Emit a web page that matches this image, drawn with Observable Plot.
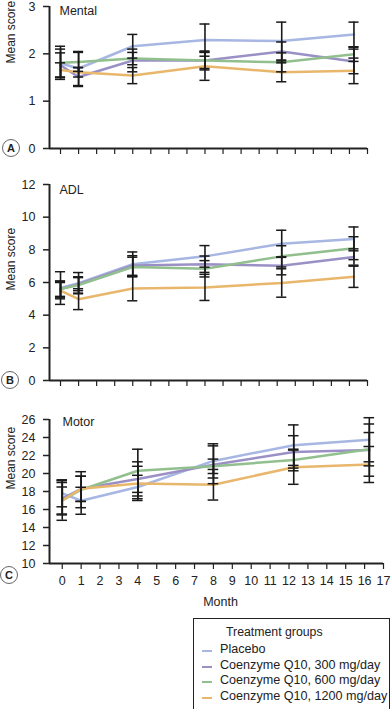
<!DOCTYPE html>
<html><head><meta charset="utf-8">
<script src="https://cdn.jsdelivr.net/npm/d3@7"></script>
<script src="https://cdn.jsdelivr.net/npm/@observablehq/plot@0.6"></script>
<style>
body{margin:0;background:#fff;font-family:"Liberation Sans",Arial,sans-serif;color:#222;}
#wrap{position:relative;width:392px;height:709px;overflow:hidden;background:#fff;}
.panel{position:absolute;left:0;}
.circ{position:absolute;width:16px;height:16px;border:1px solid #666;border-radius:50%;font-size:11px;font-weight:bold;text-align:center;line-height:16px;color:#222;background:#fff;}
.legend{position:absolute;left:193px;top:618px;width:197px;height:96px;border:1.2px solid #222;box-sizing:border-box;font-size:12.6px;color:#222;}
.legend .t{position:absolute;left:32px;top:6px;font-size:12.3px;}
.legend .r{position:absolute;left:26px;white-space:nowrap;}
.legend .sw{position:absolute;left:8px;width:10px;height:2px;}
</style></head>
<body><div id="wrap"></div>
<script>
const FONT = '"Liberation Sans", Arial, sans-serif';
const months = [0, 1, 4, 8, 12.25, 16.25];
const monthTicks = d3.range(0, 18);
const groups = ["Placebo", "Coenzyme Q10, 300 mg/day", "Coenzyme Q10, 600 mg/day", "Coenzyme Q10, 1200 mg/day"];
const colors = ["#a7b6e2", "#9b90c6", "#92bf8e", "#e8b76c"];

// Panel A — Mental (mean, ± error)
const mentalPlacebo = [1.80, 1.69, 2.16, 2.29, 2.27, 2.41];
const mental300     = [1.76, 1.51, 1.86, 1.86, 2.05, 1.84];
const mental600     = [1.81, 1.83, 1.90, 1.86, 1.82, 1.99];
const mental1200    = [1.66, 1.61, 1.54, 1.74, 1.61, 1.64];
const mentalErrPlacebo = [0.30, 0.36, 0.25, 0.34, 0.40, 0.26];
const mentalErr300     = [0.26, 0.20, 0.24, 0.17, 0.20, 0.26];
const mentalErr600     = [0.35, 0.20, 0.13, 0.20, 0.20, 0.15];
const mentalErr1200    = [0.15, 0.10, 0.17, 0.30, 0.20, 0.27];

// Panel B — ADL
const adlPlacebo = [5.66, 5.96, 7.12, 7.60, 8.37, 8.67];
const adl300     = [5.60, 5.90, 7.04, 7.12, 7.02, 7.56];
const adl600     = [5.60, 5.85, 6.95, 6.84, 7.60, 8.10];
const adl1200    = [5.50, 4.98, 5.63, 5.70, 5.97, 6.35];
const adlErrPlacebo = [1.00, 0.65, 0.75, 0.66, 0.83, 0.73];
const adlErr300     = [0.45, 0.40, 0.60, 0.50, 0.55, 0.50];
const adlErr600     = [0.50, 0.50, 0.60, 0.50, 0.65, 0.70];
const adlErr1200    = [0.50, 0.64, 0.75, 0.80, 0.87, 0.65];

// Panel C — Motor
const motorPlacebo = [17.8, 16.97, 18.5, 21.4, 23.15, 23.75];
const motor300     = [17.2, 18.3, 19.4, 20.97, 22.4, 22.6];
const motor600     = [17.0, 18.2, 20.3, 20.8, 21.5, 22.7];
const motor1200    = [17.0, 18.3, 18.9, 18.75, 20.7, 21.0];
const motorErrPlacebo = [1.5, 1.5, 1.3, 1.9, 2.25, 2.45];
const motorErr300     = [1.8, 1.4, 1.9, 2.1, 1.8, 2.9];
const motorErr600     = [2.2, 2.0, 2.4, 0.8, 1.2, 1.85];
const motorErr1200    = [1.5, 1.4, 1.9, 1.7, 1.9, 2.0];

function rowsFor(means, errs) {
  return groups.flatMap((g, gi) => months.map((m, i) => ({group: g, month: m, value: means[gi][i], err: errs[gi][i]})));
}

function panel(o) {
  const cap = 0.28;
  return Plot.plot({
    width: 392, height: o.height,
    marginLeft: 49, marginRight: o.marginRight, marginTop: o.marginTop, marginBottom: o.marginBottom,
    style: {background: "transparent", overflow: "visible", fontFamily: FONT, fontSize: "12px", color: "#222"},
    x: {domain: o.xDomain},
    y: {domain: o.yDomain},
    color: {domain: groups, range: colors},
    marks: [
      Plot.axisY(o.yTicks, {tickSize: 6, tickPadding: 8, label: null, fontSize: 12.5, strokeWidth: 1.5}),
      Plot.axisX(monthTicks, {tickSize: 6, tickPadding: 7, label: null, fontSize: 12.5, strokeWidth: 1.2,
        tickFormat: o.xLabels ? (d => String(d)) : (() => "")}),
      Plot.ruleX([o.xDomain[0]], {y1: o.yDomain[0], y2: o.yDomain[1], stroke: "#222", strokeWidth: 2}),
      Plot.ruleY([o.yDomain[0]], {x1: o.xDomain[0], x2: o.xDomain[1], stroke: "#222", strokeWidth: 2}),
      Plot.line(o.rows, {x: "month", y: "value", stroke: "group", strokeWidth: 2.5}),
      Plot.ruleX(o.rows, {x: "month", y1: d => d.value - d.err, y2: d => d.value + d.err, stroke: "#1a1a1a", strokeWidth: 1.6}),
      Plot.ruleY(o.rows, {y: d => d.value + d.err, x1: d => d.month - cap, x2: d => d.month + cap, stroke: "#1a1a1a", strokeWidth: 1.5}),
      Plot.ruleY(o.rows, {y: d => d.value - d.err, x1: d => d.month - cap, x2: d => d.month + cap, stroke: "#1a1a1a", strokeWidth: 1.5}),
      Plot.text([o.title], {frameAnchor: "top-left", textAnchor: "start", lineAnchor: "middle", dx: o.titleDx, dy: o.titleDy, fontSize: 12.5, fill: "#222"}),
      Plot.text(["Mean score"], {frameAnchor: "left", rotate: -90, dx: -38, dy: o.labelDy, fontSize: 12, fill: "#222"}),
      ...(o.xLabels ? [Plot.text(["Month"], {frameAnchor: "bottom", lineAnchor: "middle", dx: 4, dy: 38, fontSize: 12.5, fill: "#222"})] : [])
    ]
  });
}

const wrap = document.getElementById("wrap");
function place(node, top) { node.classList.add("panel"); node.style.top = top + "px"; wrap.appendChild(node); }

place(panel({
  rows: rowsFor([mentalPlacebo, mental300, mental600, mental1200], [mentalErrPlacebo, mentalErr300, mentalErr600, mentalErr1200]),
  yDomain: [0, 3], yTicks: [0, 1, 2, 3], xDomain: [-0.61, 17], marginRight: 25,
  height: 170, marginTop: 10, marginBottom: 18, title: "Mental", titleDx: 10, titleDy: 4, labelDy: -14, xLabels: false
}), -4);

place(panel({
  rows: rowsFor([adlPlacebo, adl300, adl600, adl1200], [adlErrPlacebo, adlErr300, adlErr600, adlErr1200]),
  yDomain: [0, 12], yTicks: [0, 2, 4, 6, 8, 10, 12], xDomain: [-0.61, 17], marginRight: 25,
  height: 222, marginTop: 14, marginBottom: 12, title: "ADL", titleDx: 10, titleDy: 5, labelDy: 8, xLabels: false
}), 170);

place(panel({
  rows: rowsFor([motorPlacebo, motor300, motor600, motor1200], [motorErrPlacebo, motorErr300, motorErr600, motorErr1200]),
  yDomain: [10, 26], yTicks: [10, 12, 14, 16, 18, 20, 22, 24, 26], xDomain: [-0.675, 17], marginRight: 9,
  height: 208, marginTop: 19, marginBottom: 45, title: "Motor", titleDx: 13, titleDy: 2, labelDy: -2, xLabels: true
}), 400);

// circled panel letters
[["A", 2, 139], ["B", 1, 371], ["C", 0, 566]].forEach(([t, x, y]) => {
  const c = document.createElement("div");
  c.className = "circ"; c.textContent = t; c.style.left = x + "px"; c.style.top = y + "px";
  wrap.appendChild(c);
});

// legend
const lg = document.createElement("div");
lg.className = "legend";
lg.innerHTML = '<div class="t">Treatment groups</div>' + groups.map((g, i) =>
  `<div class="sw" style="top:${31 + i * 15.6}px;background:${colors[i]}"></div><div class="r" style="top:${23 + i * 15.6}px">${g}</div>`).join("");
wrap.appendChild(lg);
</script>
</body></html>
